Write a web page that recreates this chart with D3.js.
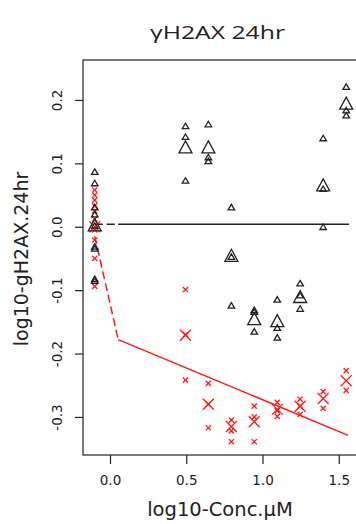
<!DOCTYPE html>
<meta charset="utf-8">
<head>
<style>
    body { margin: 0; background: #fff; }
    svg { display: block; }
    text { font-family: "DejaVu Sans", sans-serif; fill: #222; }
    .fit { fill: none; stroke-width: 1.5; }
    .axis path.domain { display: none; }
    .axis line { stroke: #222; stroke-width: 1.2; }
</style>
</head>
<body>
<div id="chart"></div>
<script src="https://cdn.jsdelivr.net/npm/d3@7"></script>
<script>
// log10 concentration of each dose (control drawn at -0.1)
var conc = [-0.1, 0.495, 0.645, 0.796, 0.946, 1.097, 1.247, 1.398, 1.549];

// gH2AX replicates (black triangles) and their summary point
var blackReps = [
    [0.087, 0.069, 0.031, 0.02, 0.002, -0.031, -0.034, -0.082, -0.085],
    [0.159, 0.142, 0.073],
    [0.162, 0.110, 0.104],
    [0.031, -0.047, -0.124],
    [-0.131, -0.134, -0.165],
    [-0.1145, -0.159, -0.1745],
    [-0.089, -0.108, -0.129],
    [0.140, 0.060, 0.0],
    [0.221, 0.184, 0.176]
];
var blackMeans = [0.003, 0.126, 0.126, -0.045, -0.145, -0.148, -0.110, 0.066, 0.195];

// second series (red crosses)
var redReps = [
    [0.058, 0.05, 0.042, 0.033, 0.025, 0.012, -0.005, -0.021, -0.05, -0.094],
    [-0.099, -0.17, -0.242],
    [-0.247, -0.28, -0.317],
    [-0.305, -0.322, -0.339],
    [-0.283, -0.30, -0.339],
    [-0.277, -0.290, -0.299],
    [-0.272, -0.283, -0.296],
    [-0.26, -0.2865],
    [-0.227, -0.258]
];
var redMeans = [0.0, -0.171, -0.28, -0.315, -0.3075, -0.288, -0.283, -0.271, -0.243];

// fitted curves: first segment dashed, second solid
var blackFit = [[-0.1, 0.004], [0.054, 0.004], [1.567, 0.004]];
var redFit = [[-0.1, -0.015], [0.054, -0.178], [1.561, -0.329]];

var xTicks = [0, 0.5, 1, 1.5];
var yTicks = [-0.3, -0.2, -0.1, 0, 0.1, 0.2];

var width = 356, height = 524;
var plotLeft = 83, plotTop = 60, plotBottom = 455;

var x = d3.scaleLinear().domain([-0.177, 1.66]).range([plotLeft, plotLeft + 1.837 * 152.5]);
var y = d3.scaleLinear().domain([-0.36, 0.263]).range([plotBottom, plotTop]);

var svg = d3.select("#chart").append("svg")
    .attr("width", width)
    .attr("height", height);

// title
svg.append("text")
    .attr("x", 217.5)
    .attr("y", 39)
    .attr("text-anchor", "middle")
    .style("font-family", "'Open Sans', sans-serif")
    .style("font-size", "19px")
    .attr("fill", "#111")
    .attr("textLength", 135)
    .attr("lengthAdjust", "spacingAndGlyphs")
    .text("γH2AX 24hr");

// frame
svg.append("rect")
    .attr("x", plotLeft)
    .attr("y", plotTop)
    .attr("width", x.range()[1] - plotLeft)
    .attr("height", plotBottom - plotTop)
    .attr("fill", "none")
    .attr("stroke", "#222")
    .attr("stroke-width", 1.2);

// axes
var xAxis = svg.append("g")
    .attr("class", "axis")
    .attr("transform", "translate(0," + plotBottom + ")")
    .call(d3.axisBottom(x).tickValues(xTicks).tickSize(9).tickPadding(11)
        .tickFormat(function (d) { return d.toFixed(1); }));
xAxis.attr("font-size", null).attr("font-family", null);
xAxis.selectAll("text").style("font-size", "13.5px").attr("fill", "#222");

var yAxis = svg.append("g")
    .attr("class", "axis")
    .attr("transform", "translate(" + plotLeft + ",0)")
    .call(d3.axisLeft(y).tickValues(yTicks).tickSize(8)
        .tickFormat(function (d) { return d.toFixed(1); }));
yAxis.attr("font-size", null).attr("font-family", null);
yAxis.selectAll("text")
    .style("font-size", "13.5px")
    .attr("fill", "#222")
    .attr("transform", "rotate(-90)")
    .attr("x", 0)
    .attr("y", -21)
    .attr("dy", 0)
    .attr("text-anchor", "middle");

// axis titles
svg.append("text")
    .attr("x", 220)
    .attr("y", 516)
    .attr("text-anchor", "middle")
    .style("font-size", "19.5px")
    .text("log10-Conc.μM");

svg.append("text")
    .attr("transform", "translate(28,259) rotate(-90)")
    .attr("text-anchor", "middle")
    .style("font-size", "19px")
    .text("log10-gH2AX.24hr");

// fitted lines
var line = d3.line()
    .x(function (d) { return x(d[0]); })
    .y(function (d) { return y(d[1]); });

function drawFit(pts, color) {
    svg.append("path")
        .attr("class", "fit")
        .attr("stroke", color)
        .attr("stroke-dasharray", "8,4")
        .attr("d", line(pts.slice(0, 2)));
    svg.append("path")
        .attr("class", "fit")
        .attr("stroke", color)
        .attr("d", line(pts.slice(1)));
}
drawFit(blackFit, "#222");
drawFit(redFit, "#ff1a1a");

// marker shapes
function crossPath(r) {
    return "M" + -r + "," + -r + "L" + r + "," + r + "M" + -r + "," + r + "L" + r + "," + -r;
}
function triPath(w, h) {
    return "M0," + (-h / 2) + "L" + (w / 2) + "," + (h / 2) + "L" + (-w / 2) + "," + (h / 2) + "Z";
}

function flatten(reps) {
    var out = [];
    reps.forEach(function (vals, i) {
        vals.forEach(function (v) { out.push({ x: conc[i], y: v }); });
    });
    return out;
}
function pairs(vals) {
    return vals.map(function (v, i) { return { x: conc[i], y: v }; });
}

function drawMarks(data, d, color) {
    svg.append("g").selectAll("path")
        .data(data)
        .enter()
        .append("path")
        .attr("transform", function (p) { return "translate(" + x(p.x) + "," + y(p.y) + ")"; })
        .attr("d", d)
        .attr("fill", "none")
        .attr("stroke", color)
        .attr("stroke-width", 1.3);
}

drawMarks(flatten(redReps), crossPath(2.6), "#ff1a1a");
drawMarks(pairs(redMeans), crossPath(5.5), "#ff1a1a");
drawMarks(flatten(blackReps), triPath(6.5, 5.5), "#222");
drawMarks(pairs(blackMeans), triPath(13, 12), "#222");
</script>
</body>
